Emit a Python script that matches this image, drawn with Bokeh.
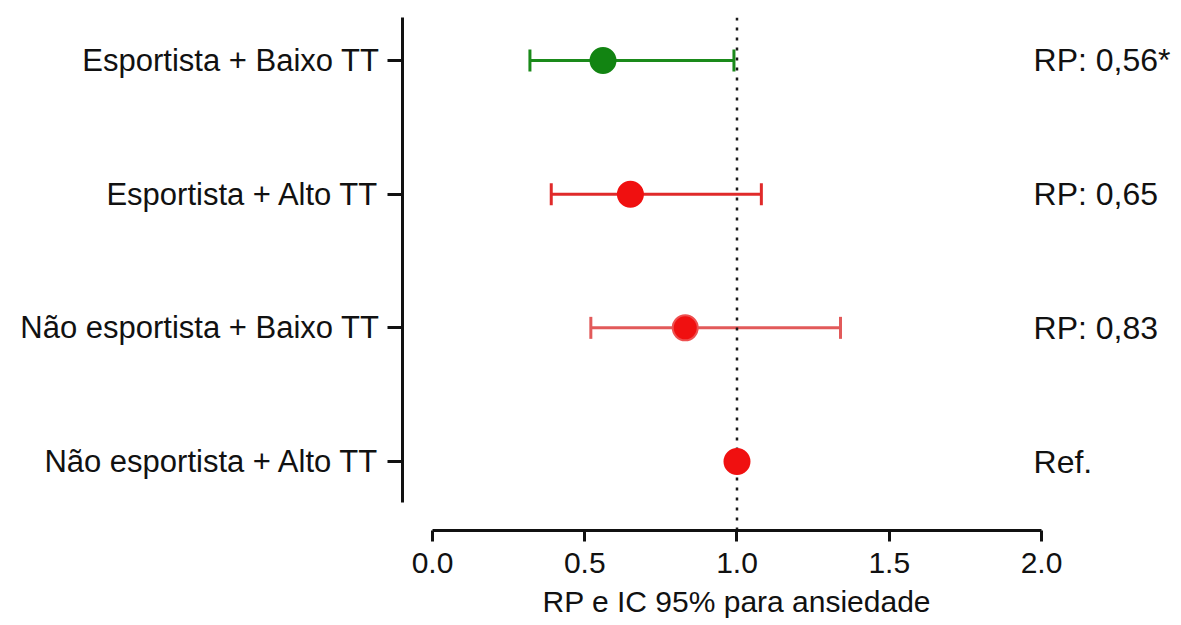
from bokeh.plotting import figure
from bokeh.models import ColumnDataSource, Whisker, TeeHead, FixedTicker, Range1d, Title
from bokeh.core.properties import value
from bokeh.embed import file_html
from bokeh.resources import INLINE

# ---- data ----
groups = ["Esportista + Baixo TT", "Esportista + Alto TT",
          "Não esportista + Baixo TT", "Não esportista + Alto TT"]
rp = [0.56, 0.65, 0.83, 1.00]
ci_low = [0.32, 0.39, 0.52, None]
ci_high = [0.99, 1.08, 1.34, None]
rp_text = ["RP: 0,56*", "RP: 0,65", "RP: 0,83", "Ref."]
x_ticks = [0.0, 0.5, 1.0, 1.5, 2.0]
x_tick_labels = ["0.0", "0.5", "1.0", "1.5", "2.0"]
ref_value = 1.0
x_label = "RP e IC 95% para ansiedade"

# ---- styles ----
line_colors = ["#1a8a1a", "#e02a2a", "#e25a5a", "#e02a2a"]
point_colors = ["#128412", "#f01010", "#f01010", "#f01010"]
point_lines = ["#128412", "#f01010", "#ee5050", "#f01010"]
FONT = "Liberation Sans"

ypos = list(range(len(groups), 0, -1))

p = figure(width=1181, height=625, output_backend="svg", toolbar_location=None,
           x_range=Range1d(-0.0985, 2.4598), y_range=Range1d(0.484, 4.374),
           min_border_left=402, min_border_right=0, min_border_top=10,
           min_border_bottom=95)
p.outline_line_color = None
p.xgrid.visible = False
p.ygrid.visible = False
p.background_fill_color = "white"
p.border_fill_color = "white"

# reference dotted line
p.segment(x0=[ref_value], x1=[ref_value], y0=[0.484], y1=[4.32],
          line_color="#1a1a1a", line_width=2.5, line_dash="3 7")

# whiskers
for i in range(len(groups)):
    if ci_low[i] is None:
        continue
    src = ColumnDataSource(dict(y=[ypos[i]], lower=[ci_low[i]], upper=[ci_high[i]]))
    w = Whisker(source=src, base="y", lower="lower", upper="upper", dimension="width",
                line_color=line_colors[i], line_width=3,
                lower_head=TeeHead(size=22, line_color=line_colors[i], line_width=3),
                upper_head=TeeHead(size=22, line_color=line_colors[i], line_width=3))
    p.add_layout(w)

src = ColumnDataSource(dict(x=rp, y=ypos, fc=point_colors, lc=point_lines,
                            t=rp_text, tx=[x_ticks[-1] - 0.026] * len(rp)))
p.scatter("x", "y", source=src, size=25, fill_color="fc", line_color="lc", line_width=2)

p.text(x="tx", y="y", text="t", source=src, text_font=value(FONT),
       text_font_size="32px", text_color="#111111", text_align="left",
       text_baseline="middle")

# x axis
xa = p.xaxis[0]
xa.ticker = FixedTicker(ticks=x_ticks)
xa.major_label_overrides = {t: l for t, l in zip(x_ticks, x_tick_labels)}
xa.bounds = (x_ticks[0], x_ticks[-1])
xa.axis_line_width = 3
xa.axis_line_color = "#111111"
xa.major_tick_line_width = 3
xa.major_tick_line_color = "#111111"
xa.major_tick_out = 11
xa.major_tick_in = 0
xa.minor_tick_line_color = None
xa.major_label_text_font = FONT
xa.major_label_text_font_size = "30px"
xa.major_label_text_color = "#111111"
xa.major_label_standoff = 11

# x-axis title, centred under the 0-2 axis span
p.add_layout(Title(text=x_label, align="left", offset=140,
                   text_font=FONT, text_font_size="30px", text_font_style="normal",
                   text_color="#111111", standoff=14), "below")

# y axis
ya = p.yaxis[0]
ya.ticker = FixedTicker(ticks=ypos)
ya.major_label_overrides = {y: g for y, g in zip(ypos, groups)}
ya.bounds = (0.693, 4.32)
ya.axis_line_width = 3
ya.axis_line_color = "#111111"
ya.major_tick_line_width = 3
ya.major_tick_line_color = "#111111"
ya.major_tick_out = 15
ya.major_tick_in = 0
ya.minor_tick_line_color = None
ya.major_label_text_font = FONT
ya.major_label_text_font_size = "31px"
ya.major_label_text_color = "#111111"
ya.major_label_standoff = 8

open("out.html", "w").write(file_html(p, INLINE))
